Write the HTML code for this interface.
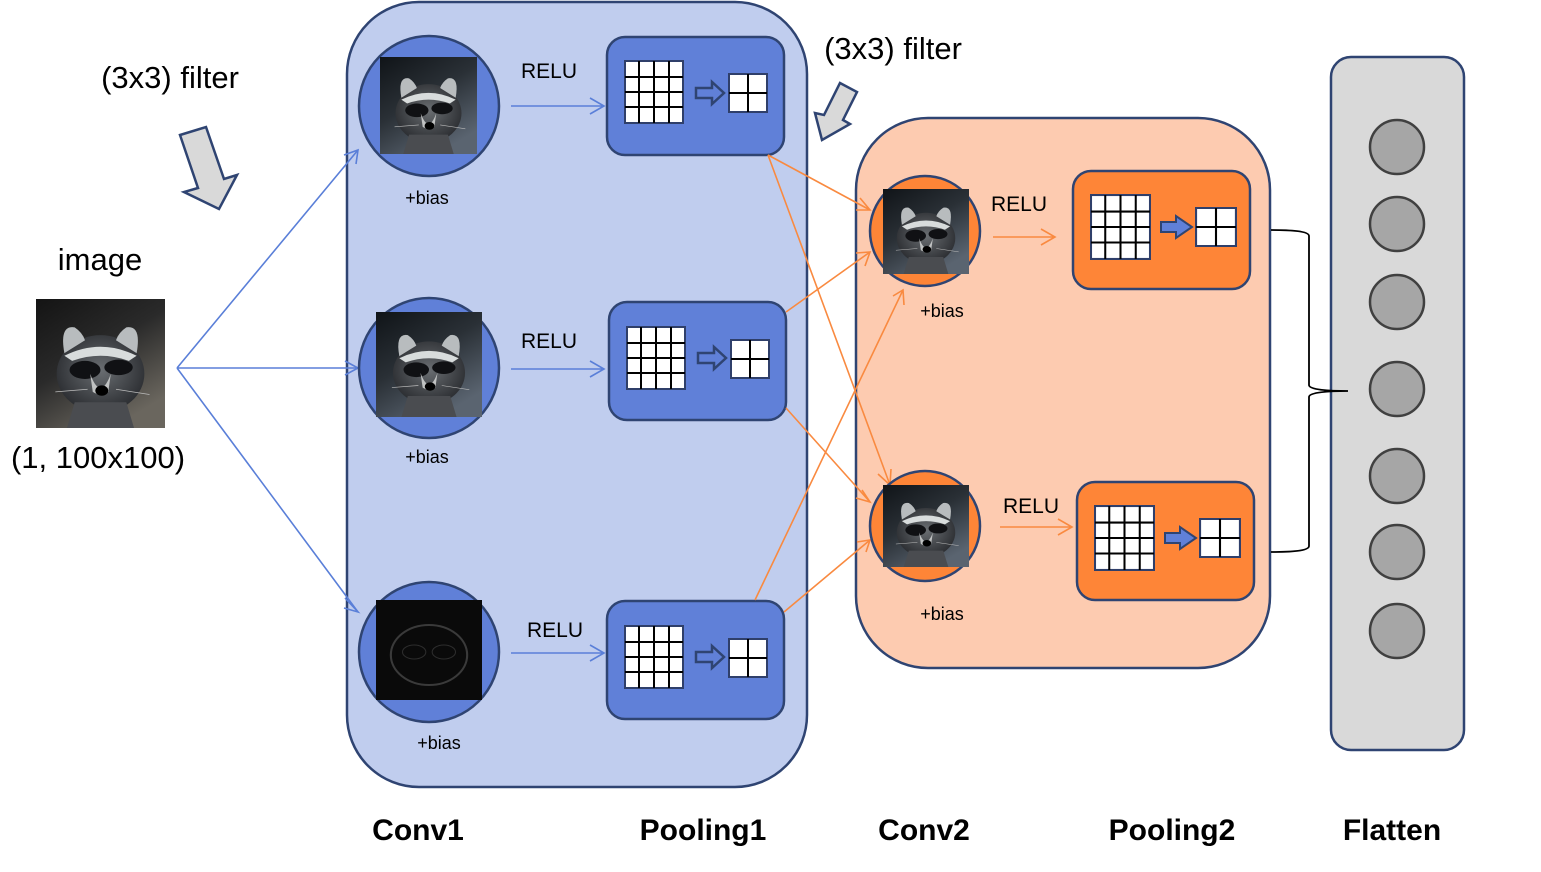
<!DOCTYPE html>
<html><head><meta charset="utf-8"><style>
html,body{margin:0;padding:0;background:#fff;}
svg{display:block;}
text{font-family:"Liberation Sans",sans-serif;fill:#000;}
</style></head><body>
<svg width="1541" height="872" viewBox="0 0 1541 872" xmlns="http://www.w3.org/2000/svg">
<defs>
<radialGradient id="rg" cx="0.5" cy="0.45" r="0.6">
<stop offset="0" stop-color="#6a6e72"/><stop offset="1" stop-color="#26282c"/>
</radialGradient>
<linearGradient id="bg" x1="0" y1="0" x2="0.6" y2="1">
<stop offset="0" stop-color="#141414"/><stop offset="0.5" stop-color="#2a2a2a"/><stop offset="1" stop-color="#6a665e"/>
</linearGradient>
<linearGradient id="bg2" x1="0" y1="0" x2="0.6" y2="1">
<stop offset="0" stop-color="#101418"/><stop offset="0.5" stop-color="#2a3036"/><stop offset="1" stop-color="#5a6470"/>
</linearGradient>
<symbol id="racbase" viewBox="0 0 100 100" preserveAspectRatio="none">
<ellipse cx="50" cy="58" rx="34" ry="30" fill="url(#rg)"/>
<path d="M22 42 Q18 20 30 22 Q36 26 38 32Z" fill="#b8bcbe"/>
<path d="M78 42 Q82 20 70 22 Q64 26 62 32Z" fill="#b8bcbe"/>
<path d="M22 44 Q50 30 78 44 L72 48 Q50 40 28 48Z" fill="#d8dcdc"/>
<ellipse cx="38" cy="55" rx="12" ry="7" fill="#101114"/>
<ellipse cx="64" cy="53" rx="11" ry="6" fill="#101114"/>
<path d="M42 58 Q50 80 58 58 L56 72 Q50 76 44 72Z" fill="#c0c2c2"/>
<ellipse cx="51" cy="71" rx="5" ry="4" fill="#000"/>
<path d="M30 80 L70 80 L76 100 L24 100Z" fill="#4a4c50"/>
<path d="M15 72 L40 70 M62 70 L88 74" stroke="#bbb" stroke-width="0.6"/>
</symbol>
<symbol id="rac" viewBox="0 0 100 100" preserveAspectRatio="none">
<rect width="100" height="100" fill="url(#bg)"/>
<use href="#racbase" width="100" height="100"/>
</symbol>
<symbol id="racb" viewBox="0 0 100 100" preserveAspectRatio="none">
<rect width="100" height="100" fill="url(#bg2)"/>
<use href="#racbase" width="100" height="100"/>
</symbol>
<symbol id="racdark" viewBox="0 0 100 100" preserveAspectRatio="none">
<rect width="100" height="100" fill="#0a0a0a"/>
<ellipse cx="50" cy="55" rx="36" ry="30" fill="none" stroke="#3a3a3a" stroke-width="2"/>
<ellipse cx="36" cy="52" rx="11" ry="7" fill="none" stroke="#2d2d2d"/>
<ellipse cx="64" cy="52" rx="11" ry="7" fill="none" stroke="#2d2d2d"/>
</symbol>
<symbol id="grid4" viewBox="0 0 60 64" preserveAspectRatio="none">
<rect x="1" y="1" width="58" height="62" fill="#fff" stroke="#2f3f6a" stroke-width="2"/>
<path d="M15 1V63M30 1V63M45 1V63M1 17H59M1 32H59M1 47H59" stroke="#000" stroke-width="2"/>
</symbol>
<symbol id="grid2" viewBox="0 0 40 40" preserveAspectRatio="none">
<rect x="1" y="1" width="38" height="38" fill="#fff" stroke="#2f3f6a" stroke-width="2"/>
<path d="M20 1V39M1 20H39" stroke="#000" stroke-width="2"/>
</symbol>
</defs>

<rect x="347" y="2" width="460" height="785" rx="72" fill="#c0cdee" stroke="#2f4472" stroke-width="2.5"/>
<rect x="856" y="118" width="414" height="550" rx="72" fill="#fdcbb0" stroke="#2f4472" stroke-width="2.5"/>
<rect x="1331" y="57" width="133" height="693" rx="20" fill="#d9d9d9" stroke="#2f4472" stroke-width="2.5"/>

<text x="100" y="270" font-size="31" text-anchor="middle">image</text>
<use href="#rac" x="36" y="299" width="129" height="129"/>
<text x="98" y="468" font-size="31" text-anchor="middle">(1, 100x100)</text>
<text x="170" y="88" font-size="31" text-anchor="middle">(3x3) filter</text>
<text x="893" y="59" font-size="31" text-anchor="middle">(3x3) filter</text>
<polygon points="180,135 206,127 224,179 237,175 219,209 184,192 198,188" fill="#d9d9d9" stroke="#2f4472" stroke-width="2.5"/>
<polygon points="840,83 857,92 843,120 850,124 822,140 815,113 824,115" fill="#d9d9d9" stroke="#2f4472" stroke-width="2.5"/>

<g stroke="#5a7fd8" stroke-width="1.6" fill="none">
<path d="M177 368L358 150M177 368L358 368M177 368L358 612"/>
<path d="M344 155L358 150L356 164"/>
<path d="M345 361L358 368L345 375"/>
<path d="M345 598L358 612L344 608"/>
<path d="M511 106H604M590 98L604 106L590 114"/>
<path d="M511 369H604M590 361L604 369L590 377"/>
<path d="M511 653H604M590 645L604 653L590 661"/>
</g>

<g fill="#6080d8" stroke="#2f4472" stroke-width="2.5">
<circle cx="429" cy="106" r="70"/>
<circle cx="429" cy="368" r="70"/>
<circle cx="429" cy="652" r="70"/>
</g>
<use href="#racb" x="380" y="57" width="97" height="97"/>
<use href="#racb" x="376" y="312" width="106" height="105"/>
<use href="#racdark" x="376" y="600" width="106" height="100"/>
<text x="427" y="204" font-size="18" text-anchor="middle">+bias</text>
<text x="427" y="463" font-size="18" text-anchor="middle">+bias</text>
<text x="439" y="749" font-size="18" text-anchor="middle">+bias</text>
<text x="549" y="78" font-size="21" text-anchor="middle">RELU</text>
<text x="549" y="348" font-size="21" text-anchor="middle">RELU</text>
<text x="555" y="637" font-size="21" text-anchor="middle">RELU</text>

<g fill="#6080d8" stroke="#2f4472" stroke-width="2.5">
<rect x="607" y="37" width="177" height="118" rx="18"/>
<rect x="609" y="302" width="177" height="118" rx="18"/>
<rect x="607" y="601" width="177" height="118" rx="18"/>
</g>
<use href="#grid4" x="624" y="60" width="60" height="64"/>
<use href="#grid2" x="728" y="73" width="40" height="40"/>
<use href="#grid4" x="626" y="326" width="60" height="64"/>
<use href="#grid2" x="730" y="339" width="40" height="40"/>
<use href="#grid4" x="624" y="625" width="60" height="64"/>
<use href="#grid2" x="728" y="638" width="40" height="40"/>
<g fill="#6080d8" stroke="#2f4472" stroke-width="2.5">
<polygon points="696,88 712,88 712,82 724,93 712,104 712,98 696,98"/>
<polygon points="698,353 714,353 714,347 726,358 714,369 714,363 698,363"/>
<polygon points="696,652 712,652 712,646 724,657 712,668 712,662 696,662"/>
</g>

<g stroke="#f98a40" stroke-width="1.6" fill="none">
<path d="M768 155L870 210M768 155L890 485M786 312L870 252M786 408L870 502M755 600L903 290M784 612L870 540"/>
<path d="M856 210L870 210L860 198"/>
<path d="M878 474L890 485L891 469"/>
<path d="M856 253L870 252L865 266"/>
<path d="M862 490L870 502L856 498"/>
<path d="M893 296L903 290L904 305"/>
<path d="M857 542L870 540L866 552"/>
<path d="M993 237H1055M1041 229L1055 237L1041 245"/>
<path d="M1000 527H1072M1058 519L1072 527L1058 535"/>
</g>

<g fill="#fe8537" stroke="#2f4472" stroke-width="2.5">
<circle cx="925" cy="231" r="55"/>
<circle cx="925" cy="526" r="55"/>
</g>
<use href="#racb" x="883" y="189" width="86" height="85"/>
<use href="#racb" x="883" y="485" width="86" height="82"/>
<text x="942" y="317" font-size="18" text-anchor="middle">+bias</text>
<text x="942" y="620" font-size="18" text-anchor="middle">+bias</text>
<text x="1019" y="211" font-size="21" text-anchor="middle">RELU</text>
<text x="1031" y="513" font-size="21" text-anchor="middle">RELU</text>

<g fill="#fe8537" stroke="#2f4472" stroke-width="2.5">
<rect x="1073" y="171" width="177" height="118" rx="18"/>
<rect x="1077" y="482" width="177" height="118" rx="18"/>
</g>
<use href="#grid4" x="1090" y="194" width="61" height="66"/>
<use href="#grid2" x="1195" y="207" width="42" height="40"/>
<use href="#grid4" x="1094" y="505" width="61" height="66"/>
<use href="#grid2" x="1199" y="518" width="42" height="40"/>
<g fill="#6080d8" stroke="#2f4472" stroke-width="2">
<polygon points="1161,222 1176,222 1176,216 1192,227 1176,238 1176,232 1161,232"/>
<polygon points="1165,533 1180,533 1180,527 1196,538 1180,549 1180,543 1165,543"/>
</g>

<path d="M1271 230C1290 230 1309 231 1309 236V385C1309 390 1330 391 1348 391M1309 397V546C1309 551 1290 552 1271 552M1348 391C1330 391 1309 392 1309 397" fill="none" stroke="#000" stroke-width="1.8"/>

<g fill="#a6a6a6" stroke="#404040" stroke-width="2.5">
<circle cx="1397" cy="147" r="27"/>
<circle cx="1397" cy="224" r="27"/>
<circle cx="1397" cy="302" r="27"/>
<circle cx="1397" cy="389" r="27"/>
<circle cx="1397" cy="476" r="27"/>
<circle cx="1397" cy="552" r="27"/>
<circle cx="1397" cy="631" r="27"/>
</g>

<g font-size="30" font-weight="bold" text-anchor="middle">
<text x="418" y="840">Conv1</text>
<text x="703" y="840">Pooling1</text>
<text x="924" y="840">Conv2</text>
<text x="1172" y="840">Pooling2</text>
<text x="1392" y="840">Flatten</text>
</g>
</svg>
</body></html>
